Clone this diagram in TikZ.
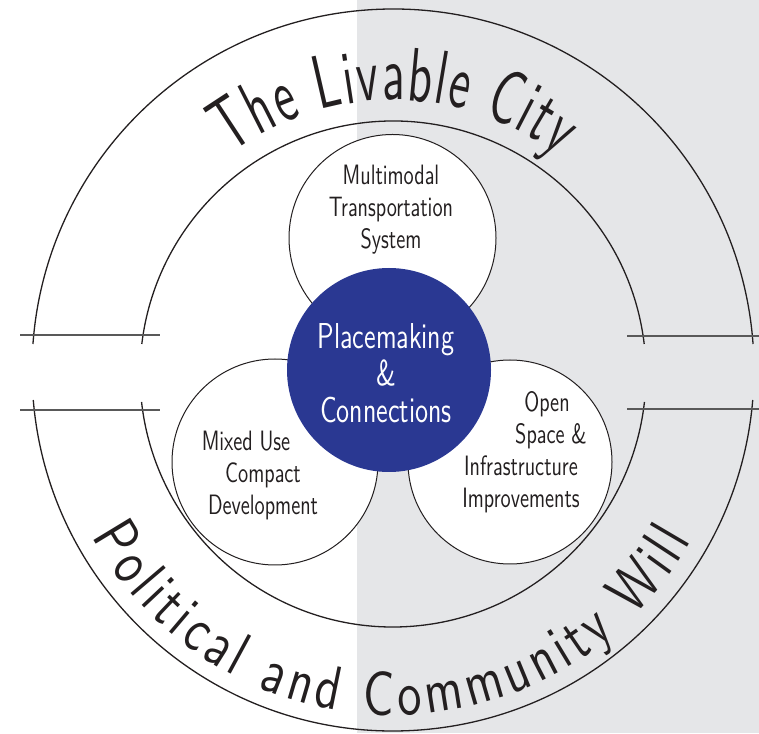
\documentclass[tikz,border=0pt]{standalone}
\usepackage{fontspec}
\usepackage{xcolor}
\usepackage{tikz}
\usetikzlibrary{decorations.text}
\newfontfamily\ringfont[FakeStretch=0.62]{lmsans10-regular.otf}
\newfontfamily\willfont[FakeStretch=0.78]{lmsans10-regular.otf}
\newfontfamily\bubblefont[FakeStretch=0.74]{lmsans12-regular.otf}
\definecolor{panel}{RGB}{229,230,232}
\definecolor{navy}{RGB}{42,56,146}
\definecolor{ink}{RGB}{35,31,32}

\begin{document}
\begin{tikzpicture}[x=1pt, y=1pt,
	ring/.style = {draw=ink, line width=1.3pt},
	cut/.style = {draw=black!65, line width=1.6pt},
	bubble/.style = {draw=ink, circle, fill=white, line width=1pt, inner sep=0pt},
	core/.style = {circle, fill=navy, inner sep=0pt, minimum size=204pt},
	label/.style = {align=center, text=ink, font=\bubblefont\fontsize{28}{32}\selectfont}]
	\useasboundingbox (0,0) rectangle (759,733);
	\fill[panel] (357,0) rectangle (759,733);
	\coordinate (o) at (393,363);
	\coordinate (i) at (393,359);
	\coordinate (t) at (393,361);
	\draw[ring] (o) ++(4.13:361) arc[start angle=4.13, end angle=175.87, radius=361];
	\draw[ring] (o) ++(184.77:361) arc[start angle=184.77, end angle=355.23, radius=361];
	\draw[ring] (i) ++(6.81:253) arc[start angle=6.81, end angle=173.19, radius=253];
	\draw[ring] (i) ++(186.35:253) arc[start angle=186.35, end angle=353.65, radius=253];
	\draw[cut] (20,398) -- (160,398);
	\draw[cut] (20,323) -- (160,323);
	\draw[cut] (627,397) -- (759,397);
	\draw[cut] (627,324) -- (759,324);
	\path[decorate, decoration={text along path, text align=fit to path,
		text={|\ringfont\fontsize{76}{76}\selectfont\color{ink}|The Livable City}}]
		(t) ++(126.6:272) arc[start angle=126.6, end angle=52.7, radius=272];
	\path[decorate, decoration={text along path, text align=fit to path,
		text={|\willfont\fontsize{62}{62}\selectfont\color{ink}|Political and Community Will}}]
		(t) ++(208.7:343) arc[start angle=208.7, end angle=330.5, radius=343];
	\node[bubble, minimum size=207pt] (transport) at (392.5,495) {};
	\node[bubble, minimum size=206pt] (mixed) at (275,271) {};
	\node[bubble, minimum size=204pt] (open) at (510,271) {};
	\node[core] (place) at (389,363) {};
	\node[label] (transport text) at (391,523) {Multimodal\\Transportation\\System};
	\node[label] (mixed text) at (263,257) {Mixed Use\hspace*{34pt}\\Compact\\Development};
	\node[label] (open text) at (521,281) {\hspace*{52pt}Open\\\hspace*{60pt}Space \&\\Infrastructure\\Improvements};
	\node[label, text=white, font=\bubblefont\fontsize{36}{37}\selectfont] (place text) at (386,360) {Placemaking\\\&\\Connections};
\end{tikzpicture}
\end{document}
